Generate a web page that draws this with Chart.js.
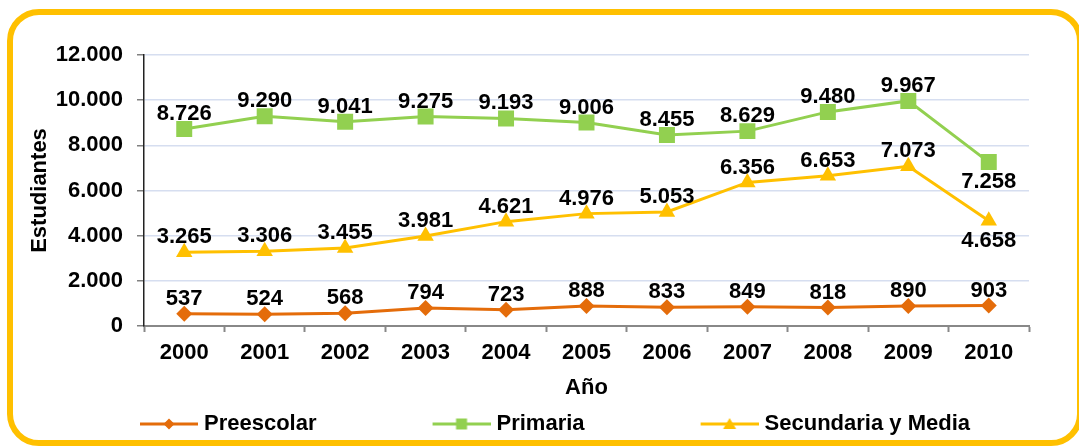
<!DOCTYPE html>
<html>
<head>
<meta charset="utf-8">
<script src="https://cdn.jsdelivr.net/npm/chart.js@4.4.0/dist/chart.umd.min.js"></script>
<style>
    html, body { margin: 0; padding: 0; background: #fff; }
    #wrap { position: relative; width: 1079px; height: 447px; overflow: hidden; }
    #frame {
        position: absolute; left: 7px; top: 9px; width: 1076px; height: 437px;
        box-sizing: border-box; border: 6px solid #FFC000; border-radius: 32px;
    }
    #studentsChart { position: absolute; left: 0; top: 0; }
</style>
</head>
<body>
<div id="wrap">
    <div id="frame"></div>
    <canvas id="studentsChart" width="1079" height="447"></canvas>
</div>
<script>
const years = ["2000", "2001", "2002", "2003", "2004", "2005", "2006", "2007", "2008", "2009", "2010"];
const preescolar = [537, 524, 568, 794, 723, 888, 833, 849, 818, 890, 903];
const primaria = [8726, 9290, 9041, 9275, 9193, 9006, 8455, 8629, 9480, 9967, 7258];
const secundaria = [3265, 3306, 3455, 3981, 4621, 4976, 5053, 6356, 6653, 7073, 4658];

const FONT = "'Liberation Sans', Arial, sans-serif";

function fmt(v) {
    return String(v).replace(/\B(?=(\d{3})+(?!\d))/g, ".");
}

// legend icon: transparent gap, then line with a small marker (excel style)
function legendIcon(color, shape) {
    const c = document.createElement("canvas");
    c.width = 177;
    c.height = 20;
    const g = c.getContext("2d");
    g.strokeStyle = color;
    g.fillStyle = color;
    g.lineWidth = 3;
    g.beginPath();
    g.moveTo(119, 10);
    g.lineTo(177, 10);
    g.stroke();
    g.beginPath();
    if (shape === "diamond") {
        g.moveTo(148, 4.5); g.lineTo(153.5, 10); g.lineTo(148, 15.5); g.lineTo(142.5, 10);
    } else if (shape === "square") {
        g.rect(142.5, 4.5, 11, 11);
    } else {
        g.moveTo(148, 4); g.lineTo(154.5, 15); g.lineTo(141.5, 15);
    }
    g.closePath();
    g.fill();
    return c;
}

const valueLabels = {
    id: "valueLabels",
    afterDatasetsDraw(chart) {
        const ctx = chart.ctx;
        ctx.save();
        ctx.font = "bold 22px " + FONT;
        ctx.fillStyle = "#000";
        ctx.textAlign = "center";
        ctx.textBaseline = "middle";
        chart.data.datasets.forEach((ds, i) => {
            const meta = chart.getDatasetMeta(i);
            meta.data.forEach((pt, j) => {
                const below = (ds.labelBelow || []).indexOf(j) >= 0;
                ctx.fillText(fmt(ds.data[j]), pt.x, below ? pt.y + 20 : pt.y - 15);
            });
        });
        ctx.restore();
    },
};

const ctx = document.getElementById("studentsChart").getContext("2d");

new Chart(ctx, {
    type: "line",
    data: {
        labels: years,
        datasets: [
            {
                label: "Preescolar",
                data: preescolar,
                borderColor: "#E46C0A",
                backgroundColor: "#E46C0A",
                pointStyle: "rectRot",
                pointRadius: 8,
                icon: legendIcon("#E46C0A", "diamond"),
            },
            {
                label: "Primaria",
                data: primaria,
                borderColor: "#92D050",
                backgroundColor: "#92D050",
                pointStyle: "rect",
                pointRadius: 11.3,
                labelBelow: [10],
                icon: legendIcon("#92D050", "square"),
            },
            {
                label: "Secundaria y Media",
                data: secundaria,
                borderColor: "#FFC000",
                backgroundColor: "#FFC000",
                pointStyle: "triangle",
                pointRadius: 9.5,
                labelBelow: [10],
                icon: legendIcon("#FFC000", "triangle"),
            },
        ],
    },
    options: {
        responsive: false,
        animation: false,
        layout: { padding: { left: 24, right: 50, top: 55, bottom: 2 } },
        elements: {
            line: { borderWidth: 3, tension: 0 },
            point: { borderWidth: 0, hoverRadius: 8 },
        },
        plugins: {
            tooltip: { enabled: false },
            legend: {
                position: "bottom",
                align: "start",
                labels: {
                    usePointStyle: true,
                    pointStyleWidth: 167,
                    padding: 2,
                    color: "#000",
                    font: { family: FONT, size: 22, weight: "bold" },
                    generateLabels(chart) {
                        return chart.data.datasets.map((ds, i) => ({
                            text: ds.label,
                            pointStyle: ds.icon,
                            fillStyle: "transparent",
                            strokeStyle: "transparent",
                            lineWidth: 0,
                            fontColor: "#000",
                            hidden: false,
                            datasetIndex: i,
                        }));
                    },
                },
            },
        },
        scales: {
            x: {
                offset: true,
                afterFit(scale) { scale.height = 85; },
                grid: {
                    drawOnChartArea: false,
                    offset: true,
                    tickLength: 6,
                    tickColor: "#888",
                    tickWidth: 2,
                },
                border: { color: "#888", width: 2 },
                ticks: {
                    color: "#000",
                    padding: 8,
                    maxRotation: 0,
                    font: { family: FONT, size: 22, weight: "bold" },
                },
                title: {
                    display: true,
                    text: "Año",
                    color: "#000",
                    padding: { top: 0, bottom: 10 },
                    font: { family: FONT, size: 22, weight: "bold" },
                },
            },
            y: {
                min: 0,
                max: 12000,
                afterFit(scale) { scale.width = 120; },
                grid: {
                    color: "#D6DEF0",
                    lineWidth: 1.5,
                    tickLength: 7,
                    tickColor: "#808080",
                    tickWidth: 1.5,
                },
                border: { color: "#222", width: 1.5 },
                ticks: {
                    stepSize: 2000,
                    color: "#000",
                    padding: 14,
                    font: { family: FONT, size: 22, weight: "bold" },
                    callback: (v) => fmt(v),
                },
                title: {
                    display: true,
                    text: "Estudiantes",
                    color: "#000",
                    padding: { top: 3, bottom: 0 },
                    font: { family: FONT, size: 22, weight: "bold" },
                },
            },
        },
    },
    plugins: [valueLabels],
});
</script>
</body>
</html>
